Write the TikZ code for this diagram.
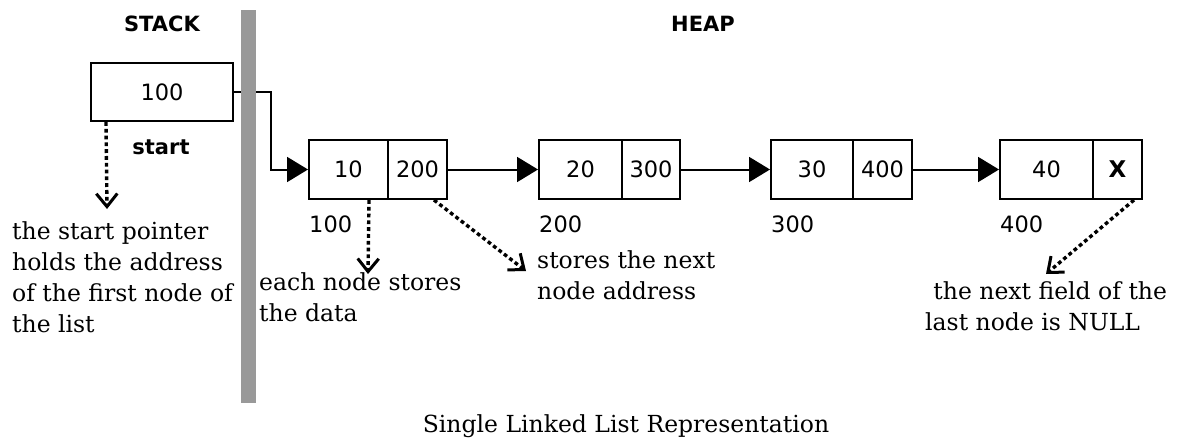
\documentclass[tikz,border=0pt]{standalone}
\usepackage{fontspec}
\setmainfont{DejaVu Serif}
\newfontfamily\labelfont{DejaVu Sans}
\usetikzlibrary{arrows.meta}
\definecolor{bargray}{RGB}{153,153,153}
\tikzset{
  field/.style={draw, line width=2pt, minimum height=59pt, inner sep=0pt,
                font=\labelfont\fontsize{22.5}{26}\selectfont},
  addr/.style={inner sep=0pt, anchor=base west, font=\labelfont\fontsize{22.5}{26}\selectfont},
  heading/.style={inner sep=0pt, anchor=base, font=\labelfont\bfseries\fontsize{21}{25}\selectfont},
  link/.style={line width=2pt, -{Triangle[length=21pt,width=25pt]}},
  pointer/.style={line width=3.4pt, dash pattern=on 3.8pt off 3pt,
                  -{Straight Barb[length=13pt,width=21pt,line width=3pt]}},
  note/.style={inner sep=0pt, anchor=north west, align=left,
               font=\fontsize{23.5}{31}\selectfont},
}
\begin{document}
\begin{tikzpicture}[x=1pt,y=-1pt]
\useasboundingbox (0,0) rectangle (1178,441);

% section headings
\node[heading] (stack) at (162,32) {STACK};
\node[heading] (heap) at (703,32) {HEAP};

% pointer variable on the stack
\node[field, minimum width=142pt, minimum height=58pt] (start) at (162,92) {100};
\node[heading] (startlbl) at (161,154) {start};

% list nodes on the heap: data field and next field
\node[field, minimum width=79pt] (d1) at (348.5,169.5) {10};
\node[field, minimum width=59pt] (n1) at (417.5,169.5) {200};
\node[field, minimum width=83pt] (d2) at (580.5,169.5) {20};
\node[field, minimum width=58pt] (n2) at (651,169.5) {300};
\node[field, minimum width=82pt] (d3) at (812,169.5) {30};
\node[field, minimum width=59pt] (n3) at (882.5,169.5) {400};
\node[field, minimum width=93pt] (d4) at (1046.5,169.5) {40};
\node[field, minimum width=49pt, font=\labelfont\bfseries\fontsize{23}{26}\selectfont] (n4) at (1117.5,169.5) {X};

% node addresses
\node[addr] (a1) at (309,232) {100};
\node[addr] (a2) at (539,232) {200};
\node[addr] (a3) at (771,232) {300};
\node[addr] (a4) at (1000,232) {400};

% links
\draw[link] (start.east) -- ++(37,0) |- (d1.west);
\draw[link] (n1.east) -- (d2.west);
\draw[link] (n2.east) -- (d3.west);
\draw[link] (n3.east) -- (d4.west);

% stack / heap divider
\fill[bargray] (241,10) rectangle (256,403);

% explanatory notes
\node[note] (t1) at (12,221) {the start pointer\\holds the address\\of the first node of\\the list};
\node[note] (t2) at (259,272) {each node stores\\the data};
\node[note] (t3) at (537,250) {stores the next\\node address};
\node[note] (t4) at (925,281) {\hspace{0.35em}the next field of the\\last node is NULL};

\coordinate (p1) at (107,209);
\coordinate (p2) at (368,274);
\coordinate (p3) at (526,271);
\coordinate (p4) at (1046,274);
\draw[pointer] ([xshift=16pt]start.south west) -- (p1);
\draw[pointer] ([xshift=-20pt]d1.south east) -- (p2);
\draw[pointer] ([xshift=-14pt]n1.south east) -- (p3);
\draw[pointer] ([xshift=-9pt]n4.south east) -- (p4);

% caption
\node[inner sep=0pt, anchor=base, font=\fontsize{23.5}{28}\selectfont] (cap) at (626,432) {Single Linked List Representation};
\end{tikzpicture}
\end{document}
